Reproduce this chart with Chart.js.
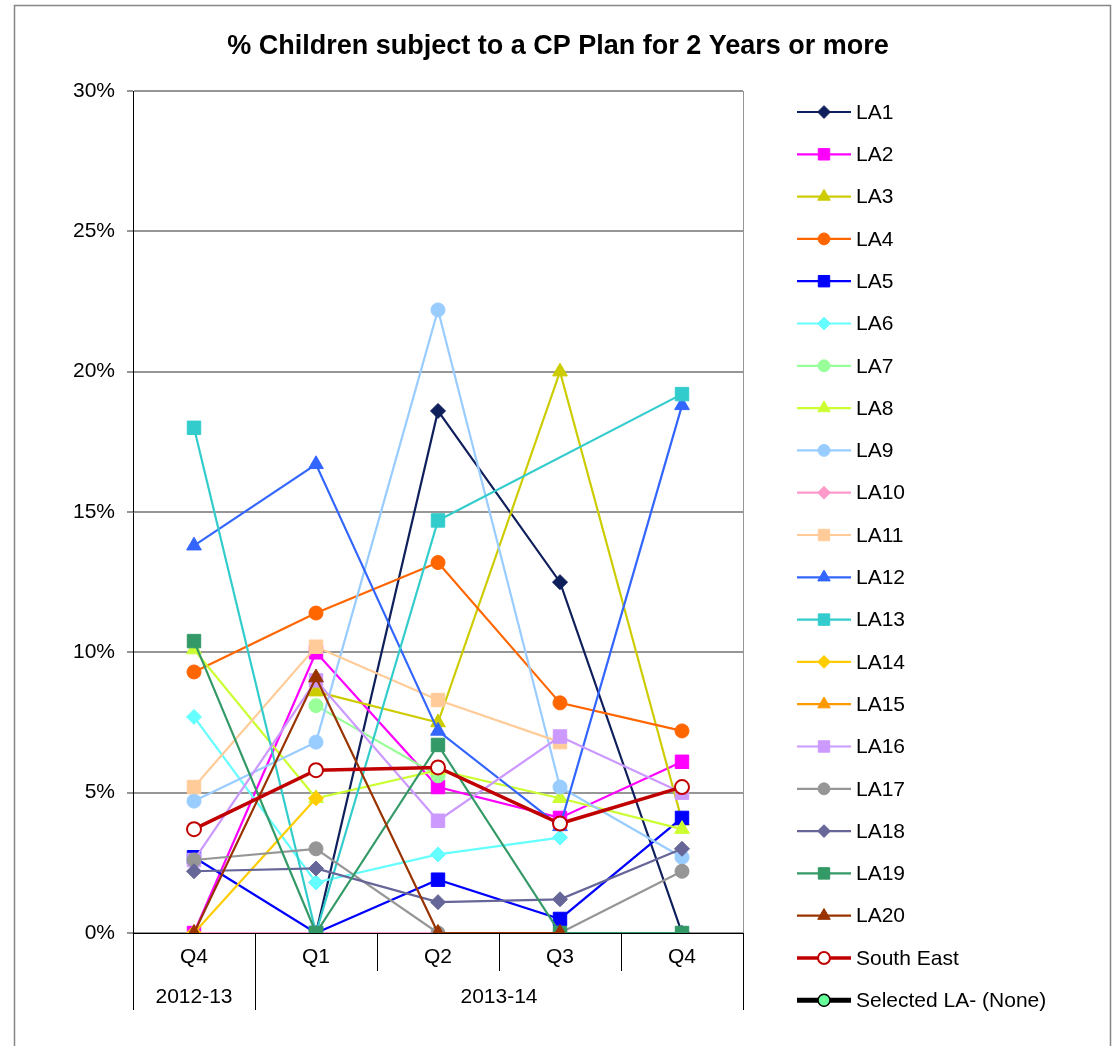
<!DOCTYPE html>
<html>
<head>
<meta charset="utf-8">
<title>% Children subject to a CP Plan for 2 Years or more</title>
<script src="https://cdn.jsdelivr.net/npm/chart.js@4.4.1/dist/chart.umd.min.js"></script>
<style>
  body { margin: 0; background: #fff; }
  canvas { display: block; }
</style>
</head>
<body>
<canvas id="cp-chart" width="1112" height="1046"></canvas>
<script>
// Quarters along the axis, grouped under financial years
const quarters = ["Q4", "Q1", "Q2", "Q3", "Q4"];
const yearLabels = ["2012-13", "2013-14"];
const quartersPerYear = [1, 4];
const yTicks = [0, 5, 10, 15, 20, 25, 30];

// % of children on a plan for 2+ years, one array per authority
const la1 = [0, 0, 18.6, 12.5, 0];
const la2 = [0, 10.0, 5.2, 4.1, 6.1];
const la3 = [null, 8.6, 7.5, 20.0, 4.0];
const la4 = [9.3, 11.4, 13.2, 8.2, 7.2];
const la5 = [2.7, 0, 1.9, 0.5, 4.1];
const la6 = [7.7, 1.8, 2.8, 3.4, null];
const la7 = [null, 8.1, 5.6, null, null];
const la8 = [10.1, 4.8, 5.8, 4.8, 3.7];
const la9 = [4.7, 6.8, 22.2, 5.2, 2.7];
const la10 = [0, 0, 0, 0, null];
const la11 = [5.2, 10.2, 8.3, 6.8, null];
const la12 = [13.8, 16.7, 7.2, 3.8, 18.8];
const la13 = [18.0, 0, 14.7, null, 19.2];
const la14 = [0, 4.8, null, null, null];
const la15 = [null, null, null, null, null];
const la16 = [2.6, 9.0, 4.0, 7.0, 5.0];
const la17 = [2.6, 3.0, 0, 0, 2.2];
const la18 = [2.2, 2.3, 1.1, 1.2, 3.0];
const la19 = [10.4, 0, 6.7, 0, 0];
const la20 = [0, 9.1, 0, 0, null];
const southEast = [3.7, 5.8, 5.9, 3.9, 5.2];
const selectedLA = [null, null, null, null, null];

const seriesNames = ["LA1", "LA2", "LA3", "LA4", "LA5", "LA6", "LA7", "LA8", "LA9", "LA10",
  "LA11", "LA12", "LA13", "LA14", "LA15", "LA16", "LA17", "LA18", "LA19", "LA20",
  "South East", "Selected LA- (None)"];
const seriesValues = [la1, la2, la3, la4, la5, la6, la7, la8, la9, la10,
  la11, la12, la13, la14, la15, la16, la17, la18, la19, la20,
  southEast, selectedLA];

// styling
const seriesColors = ["#0f1f5c", "#ff00ff", "#cccc00", "#ff6600", "#0000ff", "#66ffff", "#99ff99",
  "#ccff33", "#99ccff", "#ff99cc", "#ffcc99", "#3366ff", "#33cccc", "#ffcc00", "#ff9900",
  "#cc99ff", "#969696", "#666699", "#339966", "#993300", "#c00000", "#000000"];
const seriesMarkers = ["rectRot", "rect", "triangle", "circle", "rect", "rectRot", "circle",
  "triangle", "circle", "rectRot", "rect", "triangle", "rect", "rectRot", "triangle",
  "rect", "circle", "rectRot", "rect", "triangle", "circle", "circle"];
const markerSize = { rectRot: 7.5, rect: 9.5, triangle: 8.5, circle: 7 };

const FONT = "'Liberation Sans', Arial, sans-serif";

const datasets = seriesNames.map((name, i) => {
  const color = seriesColors[i];
  const ds = {
    label: name,
    data: seriesValues[i],
    borderColor: color,
    backgroundColor: color,
    borderWidth: 2.2,
    pointStyle: seriesMarkers[i],
    pointRadius: markerSize[seriesMarkers[i]],
    pointBackgroundColor: color,
    pointBorderColor: color,
    pointBorderWidth: 1,
    spanGaps: true,
    tension: 0,
    order: seriesNames.length - i // later series sit on top
  };
  if (name === "South East") {
    ds.borderWidth = 3.5;
    ds.pointBackgroundColor = "#ffffff";
    ds.pointBorderWidth = 2;
  }
  if (name.startsWith("Selected")) {
    ds.borderWidth = 5;
    ds.pointBackgroundColor = "#66ff99";
    ds.pointBorderWidth = 1.5;
  }
  return ds;
});

// frame, title, year grouping under the axis and the legend
const chartExtras = {
  id: "chartExtras",
  beforeDraw(chart) {
    const ctx = chart.ctx;
    ctx.save();
    ctx.fillStyle = "#fff";
    ctx.fillRect(0, 0, chart.width, chart.height);
    ctx.strokeStyle = "#868686";
    ctx.lineWidth = 1.5;
    ctx.strokeRect(14.5, 5.5, 1096, 1100);
    ctx.restore();
  },
  afterDraw(chart) {
    const ctx = chart.ctx;
    const area = chart.chartArea;
    const x = chart.scales.x;
    const half = (x.getPixelForValue(1) - x.getPixelForValue(0)) / 2;

    ctx.save();

    // title
    ctx.fillStyle = "#000";
    ctx.font = "bold 27px " + FONT;
    ctx.textAlign = "center";
    ctx.textBaseline = "middle";
    ctx.fillText("% Children subject to a CP Plan for 2 Years or more", 558, 47);

    // right edge of the plot
    ctx.strokeStyle = "#969696";
    ctx.lineWidth = 1;
    ctx.beginPath();
    ctx.moveTo(Math.round(area.right) + 0.5, area.top);
    ctx.lineTo(Math.round(area.right) + 0.5, area.bottom);
    ctx.stroke();

    // year groups
    ctx.strokeStyle = "#000";
    ctx.font = "21px " + FONT;
    let start = 0;
    yearLabels.forEach((label, k) => {
      const end = start + quartersPerYear[k] - 1;
      const left = x.getPixelForValue(start) - half;
      const right = x.getPixelForValue(end) + half;
      [left, right].forEach(px => {
        ctx.beginPath();
        ctx.moveTo(Math.round(px) + 0.5, area.bottom);
        ctx.lineTo(Math.round(px) + 0.5, area.bottom + 77);
        ctx.stroke();
      });
      ctx.fillText(label, (left + right) / 2, area.bottom + 64);
      start = end + 1;
    });

    // legend
    const legendTop = 112;
    const legendStep = 42.3;
    chart.data.datasets.forEach((ds, i) => {
      const y = legendTop + i * legendStep;
      ctx.strokeStyle = ds.borderColor;
      ctx.lineWidth = ds.borderWidth;
      ctx.beginPath();
      ctx.moveTo(797, y);
      ctx.lineTo(851, y);
      ctx.stroke();
      ctx.fillStyle = ds.pointBackgroundColor;
      ctx.strokeStyle = ds.pointBorderColor;
      ctx.lineWidth = ds.pointBorderWidth;
      Chart.helpers.drawPoint(ctx, {
        pointStyle: ds.pointStyle,
        radius: ds.pointRadius * 0.85,
        rotation: 0,
        borderWidth: ds.pointBorderWidth
      }, 824, y);
      ctx.fillStyle = "#000";
      ctx.textAlign = "left";
      ctx.textBaseline = "middle";
      ctx.font = "21px " + FONT;
      ctx.fillText(ds.label, 856, y + 1);
    });

    ctx.restore();
  }
};

new Chart(document.getElementById("cp-chart"), {
  type: "line",
  data: { labels: quarters, datasets: datasets },
  plugins: [chartExtras],
  options: {
    responsive: false,
    animation: false,
    layout: { padding: { left: 0, top: 91, right: 369, bottom: 0 } },
    plugins: {
      legend: { display: false },
      title: { display: false },
      tooltip: { enabled: false }
    },
    scales: {
      x: {
        offset: true,
        grid: { offset: true, drawOnChartArea: false, tickLength: 38, color: "#000", lineWidth: 1 },
        border: { color: "#000", width: 1 },
        ticks: { color: "#000", font: { family: FONT, size: 21 }, padding: -26, maxRotation: 0, autoSkip: false },
        afterFit(scale) { scale.height = 113; }
      },
      y: {
        min: yTicks[0],
        max: yTicks[yTicks.length - 1],
        afterBuildTicks(scale) { scale.ticks = yTicks.map(v => ({ value: v })); },
        ticks: { color: "#000", font: { family: FONT, size: 21 }, padding: 12, callback: v => v + "%" },
        grid: { color: "#969696", lineWidth: 2, tickLength: 6 },
        border: { color: "#000", width: 1 },
        afterFit(scale) { scale.width = 133; }
      }
    }
  }
});
</script>
</body>
</html>
